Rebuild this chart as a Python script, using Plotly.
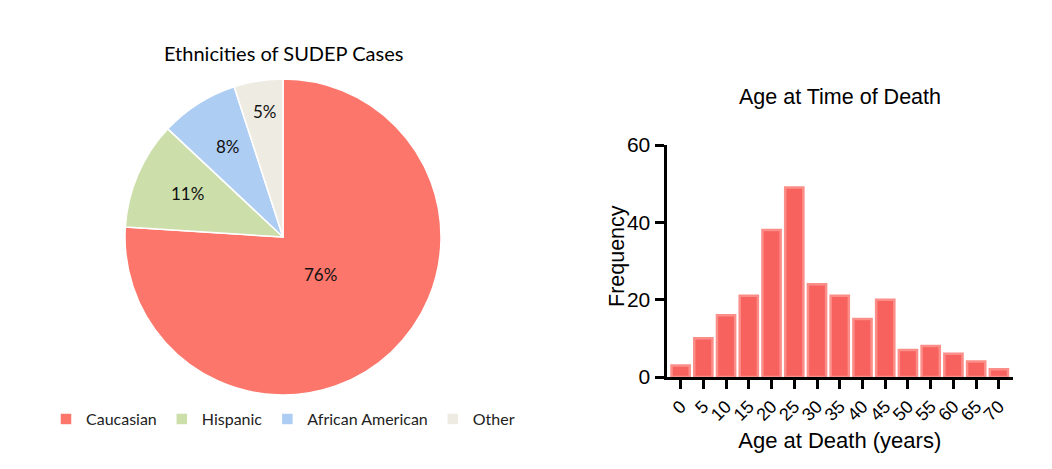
import math
import plotly.graph_objects as go

# Pie data
eth_labels = ["Caucasian", "Hispanic", "African American", "Other"]
eth_values = [76, 11, 8, 5]
eth_colors = ["#FC766B", "#CCDFAB", "#AECDF3", "#EEEBE3"]

# Histogram data
age_bins = ["0", "5", "10", "15", "20", "25", "30", "35", "40", "45", "50", "55", "60", "65", "70"]
age_freq = [3, 10, 16, 21, 38, 49, 24, 21, 15, 20, 7, 8, 6, 4, 2]

# page body has an 8px margin; size the figure to fit the window
OFF = 8
W, H = 1052 - OFF, 469 - OFF


def fx(px):
    return (px - OFF) / W


def fy(py):
    return 1 - (py - OFF) / H


# pie geometry (pixels) and label radius fractions (style)
PIE_CX, PIE_CY, PIE_R = 283, 237, 158
label_rfrac = [0.33, 0.67, 0.67, 0.80]

fig = go.Figure()

fig.add_trace(go.Pie(
    labels=eth_labels, values=eth_values,
    marker=dict(colors=eth_colors, line=dict(color="white", width=1.5)),
    sort=False, direction="clockwise", rotation=0,
    textinfo="none",
    domain=dict(x=[fx(PIE_CX - PIE_R), fx(PIE_CX + PIE_R)], y=[fy(PIE_CY + PIE_R), fy(PIE_CY - PIE_R)]),
    showlegend=True,
    hoverinfo="label+percent",
))

fig.add_trace(go.Bar(
    x=age_bins, y=age_freq,
    marker=dict(color="#F7615E", line=dict(color="#FC8E89", width=2.5)),
    width=0.8,
    showlegend=False,
    xaxis="x", yaxis="y",
))

# percentage labels for the pie, placed along each slice's mid-angle
annotations = []
total = sum(eth_values)
cum = 0
for v, rf in zip(eth_values, label_rfrac):
    mid = (cum + v / 2) / total * 2 * math.pi
    cum += v
    px = PIE_CX + rf * PIE_R * math.sin(mid)
    py = PIE_CY - rf * PIE_R * math.cos(mid)
    annotations.append(dict(
        text=f"{round(v / total * 100)}%", x=fx(px + 2), y=fy(py - 1), xref="paper", yref="paper",
        showarrow=False, font=dict(family="Lato", size=17, color="#111111"),
        xanchor="center", yanchor="middle"))

annotations += [
    dict(text="Ethnicities of SUDEP Cases", x=fx(283), y=fy(53), xref="paper", yref="paper",
         showarrow=False, font=dict(family="Lato", size=20, color="black"), xanchor="center", yanchor="middle"),
    dict(text="Age at Time of Death", x=fx(840), y=fy(97), xref="paper", yref="paper",
         showarrow=False, font=dict(family="Liberation Sans", size=21.5, color="black"), xanchor="center", yanchor="middle"),
    dict(text="Frequency", x=fx(617), y=fy(256), xref="paper", yref="paper", textangle=-90,
         showarrow=False, font=dict(family="Liberation Sans", size=21.5, color="black"), xanchor="center", yanchor="middle"),
]

fig.update_layout(
    width=W, height=H,
    margin=dict(l=0, r=0, t=0, b=0, autoexpand=False),
    paper_bgcolor="white", plot_bgcolor="white",
    xaxis=dict(
        domain=[fx(666.5), fx(1013)],
        range=[-0.62, 14.62],
        type="category",
        automargin=False,
        showgrid=False, zeroline=False,
        showline=True, linecolor="black", linewidth=3,
        ticks="outside", ticklen=9, tickwidth=3, tickcolor="black",
        tickangle=-45, tickfont=dict(family="Liberation Sans", size=18, color="black"),
        title=dict(text="Age at Death (years)", font=dict(family="Liberation Sans", size=22, color="black"), standoff=9),
        anchor="y",
    ),
    yaxis=dict(
        domain=[fy(377), fy(145)],
        range=[0, 60],
        tickvals=[0, 20, 40, 60],
        automargin=False,
        showgrid=False, zeroline=False,
        showline=True, linecolor="black", linewidth=3,
        ticks="outside", ticklen=9, tickwidth=3, tickcolor="black",
        tickfont=dict(family="Liberation Sans", size=21, color="black"),
        anchor="x",
    ),
    legend=dict(
        orientation="h", x=fx(46), y=fy(419), xanchor="left", yanchor="middle",
        font=dict(family="Lato", size=16, color="#222222"),
        itemwidth=30, traceorder="normal",
    ),
    annotations=annotations,
)

fig.write_html("out.html")
